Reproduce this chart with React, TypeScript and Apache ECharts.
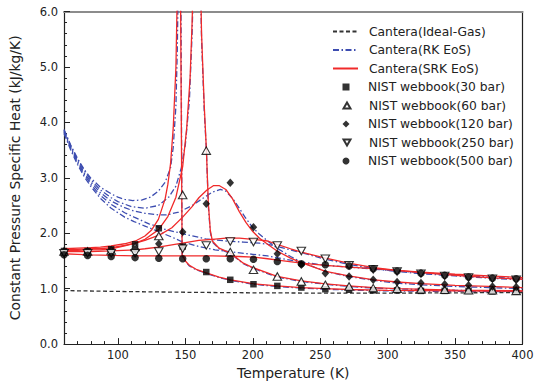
import React, { useEffect, useRef } from "react";
import * as echarts from "echarts";

// ---------------- data ----------------
const X_MAJOR = [100, 150, 200, 250, 300, 350, 400];
const X_MINOR = [70, 80, 90, 110, 120, 130, 140, 160, 170, 180, 190, 210, 220, 230, 240, 260, 270, 280, 290, 310, 320, 330, 340, 360, 370, 380, 390];

const T_IDEAL = [60, 100, 150, 200, 250, 300, 350, 400];
const CP_IDEAL = [0.965, 0.95, 0.935, 0.925, 0.92, 0.92, 0.925, 0.93];

const T_RK30 = [60, 65, 70, 75, 80, 87, 95, 100, 105, 111, 118, 124, 130, 135, 139, 141, 143, 144, 145, 146, 147.6, 150, 153, 158, 165, 175, 183.5, 200, 218, 236, 254, 271, 300, 350, 400];
const CP_RK30 = [3.87, 3.59, 3.35, 3.15, 2.99, 2.83, 2.71, 2.65, 2.61, 2.59, 2.6, 2.65, 2.76, 2.92, 3.18, 3.55, 4.3, 5.3, 7.0, 10, 1.6, 1.49, 1.41, 1.34, 1.28, 1.2, 1.15, 1.08, 1.04, 1.01, 0.99, 0.975, 0.96, 0.95, 0.945];

const T_RK60 = [60, 65, 70, 75, 80, 87, 95, 100, 110, 120, 130, 138, 143, 147, 150, 153, 155, 157, 159, 160.5, 162, 164, 165.6, 167, 168.5, 170, 175, 183.5, 193, 200, 218, 236, 254, 271, 290, 307, 350, 400];
const CP_RK60 = [3.86, 3.57, 3.33, 3.13, 2.96, 2.78, 2.64, 2.57, 2.48, 2.45, 2.5, 2.66, 2.85, 3.18, 3.6, 4.4, 5.6, 7.5, 9, 7.5, 5.5, 4.2, 3.5, 2.5, 2.02, 1.84, 1.72, 1.63, 1.45, 1.37, 1.21, 1.13, 1.08, 1.04, 1.01, 0.995, 0.97, 0.955];

const T_RK120 = [60, 65, 70, 75, 80, 87, 95, 105, 112, 120, 130, 136, 145, 155, 163, 170, 176, 180, 185, 190, 194, 200, 205, 211, 218, 228, 236, 254, 271, 290, 307, 325, 350, 375, 400];
const CP_RK120 = [3.84, 3.55, 3.3, 3.09, 2.92, 2.73, 2.58, 2.46, 2.4, 2.36, 2.33, 2.33, 2.38, 2.5, 2.63, 2.74, 2.79, 2.76, 2.63, 2.45, 2.3, 2.1, 1.98, 1.86, 1.73, 1.58, 1.48, 1.31, 1.22, 1.15, 1.1, 1.07, 1.04, 1.02, 1.0];

const T_RK250 = [60, 65, 70, 75, 80, 87, 95, 105, 112, 123, 135, 150, 165, 180, 193, 205, 211, 220, 236, 254, 271, 290, 307, 325, 350, 375, 400];
const CP_RK250 = [3.82, 3.53, 3.27, 3.06, 2.88, 2.68, 2.52, 2.37, 2.29, 2.17, 2.07, 1.98, 1.9, 1.86, 1.84, 1.82, 1.8, 1.75, 1.65, 1.53, 1.44, 1.36, 1.31, 1.27, 1.23, 1.19, 1.16];

const T_RK500 = [60, 65, 70, 75, 80, 87, 95, 105, 112, 120, 130, 140, 148, 160, 172, 185, 200, 211, 220, 236, 254, 271, 290, 307, 325, 350, 375, 400];
const CP_RK500 = [3.8, 3.5, 3.24, 3.02, 2.84, 2.63, 2.45, 2.29, 2.21, 2.13, 2.03, 1.93, 1.84, 1.76, 1.7, 1.66, 1.62, 1.59, 1.55, 1.48, 1.42, 1.39, 1.35, 1.32, 1.29, 1.25, 1.21, 1.18];

const T_SRK30 = [60, 70, 80, 87, 95, 105, 113, 120, 125, 130, 135, 137, 139, 141, 143, 144.5, 145.5, 147.6, 150, 153, 158, 165, 175, 183.5, 200, 218, 236, 254, 271, 300, 350, 400];
const CP_SRK30 = [1.72, 1.73, 1.74, 1.75, 1.77, 1.81, 1.86, 1.95, 2.06, 2.25, 2.62, 2.88, 3.25, 3.9, 5.0, 7.0, 10, 1.62, 1.5, 1.42, 1.35, 1.29, 1.21, 1.16, 1.09, 1.05, 1.02, 1.0, 0.985, 0.97, 0.96, 0.955];

const T_SRK60 = [60, 70, 80, 87, 95, 105, 113, 120, 130, 137, 143, 148, 151, 153.5, 155, 157, 159, 160.5, 162, 164, 165.6, 167, 168.5, 170, 175, 183.5, 193, 200, 218, 236, 254, 271, 290, 307, 350, 400];
const CP_SRK60 = [1.71, 1.71, 1.72, 1.72, 1.74, 1.78, 1.82, 1.89, 2.06, 2.3, 2.65, 3.2, 3.9, 4.8, 5.8, 7.8, 9.2, 7.6, 5.6, 4.3, 3.5, 2.55, 2.05, 1.86, 1.73, 1.64, 1.46, 1.38, 1.22, 1.14, 1.085, 1.05, 1.02, 1.0, 0.975, 0.96];

const T_SRK120 = [60, 70, 80, 87, 95, 105, 113, 120, 131, 140, 148, 155, 160, 166, 171, 175, 180, 185, 190, 195, 200, 205, 211, 218, 228, 236, 254, 271, 290, 307, 325, 350, 375, 400];
const CP_SRK120 = [1.69, 1.69, 1.7, 1.7, 1.72, 1.77, 1.82, 1.87, 1.97, 2.1, 2.29, 2.48, 2.64, 2.78, 2.86, 2.86, 2.79, 2.62, 2.39, 2.19, 2.03, 1.91, 1.8, 1.68, 1.55, 1.47, 1.31, 1.23, 1.16, 1.12, 1.09, 1.06, 1.04, 1.02];

const T_SRK250 = [60, 70, 80, 95, 113, 120, 130, 140, 150, 160, 170, 180, 190, 200, 211, 218, 228, 236, 254, 271, 290, 307, 325, 350, 375, 400];
const CP_SRK250 = [1.67, 1.67, 1.67, 1.68, 1.7, 1.72, 1.75, 1.79, 1.83, 1.87, 1.89, 1.91, 1.91, 1.89, 1.86, 1.8, 1.72, 1.66, 1.55, 1.46, 1.38, 1.33, 1.29, 1.24, 1.2, 1.17];

const T_SRK500 = [60, 70, 80, 95, 113, 130, 150, 170, 190, 200, 211, 220, 236, 254, 271, 290, 307, 325, 350, 375, 400];
const CP_SRK500 = [1.63, 1.62, 1.61, 1.6, 1.59, 1.59, 1.59, 1.59, 1.58, 1.57, 1.54, 1.51, 1.46, 1.42, 1.39, 1.36, 1.33, 1.3, 1.26, 1.23, 1.2];

const T_NIST = [60, 77.5, 95, 112.7, 130.3, 148, 165.5, 183.3, 200.5, 218.2, 236, 253.8, 271.4, 289.3, 307, 324.7, 342.3, 360, 377.7, 395.3];
const NIST_30 = [1.68, 1.68, 1.71, 1.8, 2.09, 1.76, 1.3, 1.16, 1.08, 1.05, 1.02, 0.99, 0.98, 0.97, 0.97, 0.96, 0.96, 0.96, 0.95, 0.95];
const NIST_60 = [1.67, 1.67, 1.69, 1.75, 1.95, 2.69, 3.49, 1.66, 1.34, 1.22, 1.13, 1.07, 1.04, 1.01, 1.0, 0.99, 0.98, 0.97, 0.97, 0.96];
const NIST_120 = [1.66, 1.66, 1.67, 1.71, 1.81, 2.02, 2.53, 2.91, 2.11, 1.63, 1.43, 1.28, 1.22, 1.16, 1.12, 1.1, 1.08, 1.06, 1.04, 1.03];
const NIST_250 = [1.64, 1.64, 1.64, 1.64, 1.67, 1.72, 1.78, 1.85, 1.84, 1.78, 1.68, 1.54, 1.42, 1.35, 1.31, 1.27, 1.23, 1.2, 1.18, 1.16];
const NIST_500 = [1.61, 1.6, 1.58, 1.56, 1.55, 1.54, 1.54, 1.54, 1.53, 1.49, 1.45, 1.43, 1.41, 1.36, 1.32, 1.28, 1.24, 1.21, 1.19, 1.18];

const NAME_IDEAL = "Cantera(Ideal-Gas)";
const NAME_RK = "Cantera(RK EoS)";
const NAME_SRK = "Cantera(SRK EoS)";
const NAME_N30 = "NIST webbook(30 bar)";
const NAME_N60 = "NIST webbook(60 bar)";
const NAME_N120 = "NIST webbook(120 bar)";
const NAME_N250 = "NIST webbook(250 bar)";
const NAME_N500 = "NIST webbook(500 bar)";

// ---------------- helpers ----------------
const zip = (xs: number[], ys: number[]) => xs.map((x, i) => [x, ys[i]]);
const FONT = "DejaVu Sans";
const BLUE = "#3d4db0";
const RED = "#f02a2a";
const DOWN_TRI = "path://M0,0L10,0L5,8.66Z";
const UP_TRI = "path://M5,0L10,8.66L0,8.66Z";

function lineSeries(name: string, xs: number[], ys: number[], color: string, type: any, z: number) {
  return {
    type: "line",
    name,
    data: zip(xs, ys),
    symbol: "none",
    clip: true,
    z,
    lineStyle: { color, width: 1.3, type },
    itemStyle: { color },
  };
}

function scatterSeries(name: string, ys: number[], symbol: string, size: any, hollow: boolean) {
  return {
    type: "scatter",
    name,
    data: zip(T_NIST, ys),
    symbol,
    symbolSize: size,
    z: 10,
    itemStyle: hollow
      ? { color: "#ffffff", borderColor: "#000000", borderWidth: 1.1 }
      : { color: "#000000" },
  };
}

const legendText = { fontFamily: FONT, fontSize: 12.3, color: "#222", lineHeight: 14 };

function lineLegend(name: string, rowCenter: number) {
  return {
    orient: "vertical",
    left: 332,
    top: rowCenter - 7,
    padding: 0,
    itemWidth: 25,
    itemHeight: 7,
    itemStyle: { opacity: 0 },
    textStyle: { ...legendText, padding: [0, 0, 0, 6] },
    data: [name],
  };
}

function markerLegend(name: string, icon: string, rowCenter: number) {
  return {
    orient: "vertical",
    left: 342.5,
    top: rowCenter - 7,
    padding: 0,
    itemWidth: 7,
    itemHeight: 7,
    textStyle: { ...legendText, padding: [0, 0, 0, 13.5] },
    data: [{ name, icon }],
  };
}

export default function App() {
  const ref = useRef<HTMLDivElement>(null);
  useEffect(() => {
    if (!ref.current) return;
    const chart = echarts.init(ref.current, null, { renderer: "svg" });
    const dashDot = [6, 2.5, 1.5, 2.5];
    const option: any = {
      animation: false,
      backgroundColor: "#ffffff",
      textStyle: { fontFamily: FONT },
      grid: { left: 58, right: 17.5, top: 11.5, bottom: 36.7, containLabel: false },
      legend: [
        lineLegend(NAME_IDEAL, 31.5),
        lineLegend(NAME_RK, 50),
        lineLegend(NAME_SRK, 68.5),
        markerLegend(NAME_N30, "rect", 87),
        markerLegend(NAME_N60, UP_TRI, 105.5),
        markerLegend(NAME_N120, "diamond", 124),
        markerLegend(NAME_N250, DOWN_TRI, 142.5),
        markerLegend(NAME_N500, "circle", 161),
      ],
      xAxis: [
        {
          type: "value",
          min: 60,
          max: 400,
          position: "bottom",
          name: "Temperature (K)",
          nameLocation: "middle",
          nameGap: 20,
          nameTextStyle: { fontFamily: FONT, fontSize: 13.9, color: "#222" },
          axisLine: { show: true, lineStyle: { color: "#222", width: 1.2 } },
          axisTick: { show: true, inside: true, length: 6, customValues: X_MAJOR, lineStyle: { color: "#222" } },
          axisLabel: { customValues: X_MAJOR, fontFamily: FONT, fontSize: 11.5, color: "#222", margin: 5 },
          splitLine: { show: false },
        },
        {
          type: "value",
          min: 60,
          max: 400,
          position: "bottom",
          axisLine: { show: false },
          axisTick: { show: true, inside: true, length: 3, customValues: X_MINOR, lineStyle: { color: "#222" } },
          axisLabel: { show: false },
          splitLine: { show: false },
        },
        {
          type: "value",
          min: 60,
          max: 400,
          position: "top",
          axisLine: { show: true, lineStyle: { color: "#8c8c8c", width: 2 } },
          axisTick: { show: false },
          axisLabel: { show: false },
          splitLine: { show: false },
        },
      ],
      yAxis: [
        {
          type: "value",
          min: 0,
          max: 6,
          interval: 1,
          position: "left",
          name: "Constant Pressure Specific Heat (kJ/kg/K)",
          nameLocation: "middle",
          nameGap: 42,
          nameTextStyle: { fontFamily: FONT, fontSize: 13.9, color: "#222" },
          axisLine: { show: true, lineStyle: { color: "#222", width: 1.2 } },
          axisTick: { show: true, inside: true, length: 6, lineStyle: { color: "#222" } },
          minorTick: { show: true, splitNumber: 5, length: 3, lineStyle: { color: "#222" } },
          axisLabel: {
            fontFamily: FONT,
            fontSize: 11.5,
            color: "#222",
            margin: 6,
            formatter: (v: number) => v.toFixed(1),
          },
          splitLine: { show: false },
          minorSplitLine: { show: false },
        },
        {
          type: "value",
          min: 0,
          max: 6,
          position: "right",
          axisLine: { show: true, lineStyle: { color: "#222", width: 1.2 } },
          axisTick: { show: false },
          axisLabel: { show: false },
          splitLine: { show: false },
        },
      ],
      series: [
        lineSeries(NAME_IDEAL, T_IDEAL, CP_IDEAL, "#333333", [4, 2.5], 3),
        lineSeries(NAME_RK, T_RK30, CP_RK30, BLUE, dashDot, 2),
        lineSeries(NAME_RK, T_RK60, CP_RK60, BLUE, dashDot, 2),
        lineSeries(NAME_RK, T_RK120, CP_RK120, BLUE, dashDot, 2),
        lineSeries(NAME_RK, T_RK250, CP_RK250, BLUE, dashDot, 2),
        lineSeries(NAME_RK, T_RK500, CP_RK500, BLUE, dashDot, 2),
        lineSeries(NAME_SRK, T_SRK30, CP_SRK30, RED, "solid", 3),
        lineSeries(NAME_SRK, T_SRK60, CP_SRK60, RED, "solid", 3),
        lineSeries(NAME_SRK, T_SRK120, CP_SRK120, RED, "solid", 3),
        lineSeries(NAME_SRK, T_SRK250, CP_SRK250, RED, "solid", 3),
        lineSeries(NAME_SRK, T_SRK500, CP_SRK500, RED, "solid", 3),
        scatterSeries(NAME_N30, NIST_30, "rect", 6.5, false),
        scatterSeries(NAME_N60, NIST_60, UP_TRI, [8.5, 7.5], true),
        scatterSeries(NAME_N120, NIST_120, "diamond", [7.5, 8.5], false),
        scatterSeries(NAME_N250, NIST_250, DOWN_TRI, [8.5, 7.5], true),
        scatterSeries(NAME_N500, NIST_500, "circle", 7.5, false),
      ],
    };
    chart.setOption(option);
    return () => chart.dispose();
  }, []);
  return (
    <div
      ref={ref}
      style={{ position: "fixed", left: 0, top: 0, width: 540, height: 385, background: "#fff" }}
    />
  );
}
